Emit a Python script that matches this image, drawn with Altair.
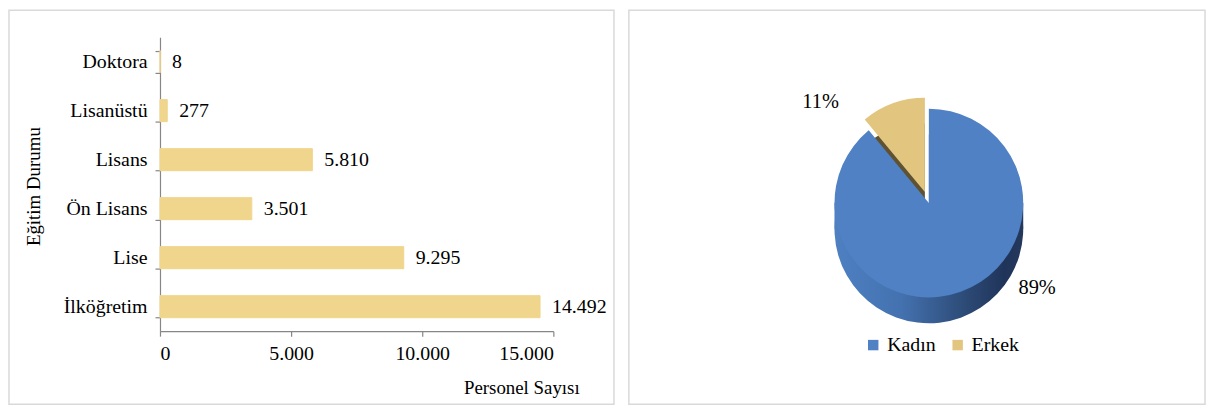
import altair as alt
import pandas as pd

# ---- data ----
categories = ["Doktora", "Lisanüstü", "Lisans", "Ön Lisans", "Lise", "İlköğretim"]
counts = [8, 277, 5810, 3501, 9295, 14492]
x_ticks = [0, 5000, 10000, 15000]

genders = ["Kadın", "Erkek"]
shares = [89, 11]

bar_df = pd.DataFrame({"cat": categories, "count": counts})
pie_df = pd.DataFrame({"g": genders, "share": shares, "idx": list(range(len(genders)))})
one = pd.DataFrame({"k": [0]})

FONT = "Liberation Serif"
BAR = "#F0D58C"
BLUE = "#4F81C4"
TAN = "#E2C57F"
FRAME = "#D9D9D9"

side_grad = alt.LinearGradient(
    gradient="linear", x1=0, y1=0, x2=1, y2=0,
    stops=[
        alt.GradientStop(offset=0, color="#4E80C2"),
        alt.GradientStop(offset=0.35, color="#4472B0"),
        alt.GradientStop(offset=0.7, color="#2C4A75"),
        alt.GradientStop(offset=0.9, color="#20345A"),
        alt.GradientStop(offset=1, color="#24395C"),
    ],
)

# pie geometry (pixels relative to bar plot origin)
CX, CY, R, D = 774, 167, 95, 26
EX, EY = -4, -11

x_enc = alt.X(
    "count:Q",
    scale=alt.Scale(domain=[0, 15000], nice=False),
    axis=alt.Axis(
        values=x_ticks, grid=False, tickSize=5, labelPadding=8,
        labelExpr="replace(format(datum.value, ','), ',', '.')",
        title="Personel Sayısı", titleAnchor="end", titleAlign="right",
        titleX=422, titleY=57, titleBaseline="middle", titleFontWeight="normal",
    ),
)
y_enc = alt.Y(
    "cat:N", sort=categories,
    scale=alt.Scale(paddingInner=0.55, paddingOuter=0.275),
    axis=alt.Axis(
        tickBand="extent", tickSize=5, labelPadding=8, grid=False,
        title="Eğitim Durumu", titleX=-127, titleY=150, titleAngle=-90,
        titleBaseline="middle", titleAlign="center", titleFontWeight="normal",
    ),
)

frame_l = alt.Chart(one).mark_rect(filled=False, stroke=FRAME, strokeWidth=1.5).encode(
    x=alt.value(-152), x2=alt.value(457), y=alt.value(-27), y2=alt.value(369.5))
frame_r = alt.Chart(one).mark_rect(filled=False, stroke=FRAME, strokeWidth=1.5).encode(
    x=alt.value(472), x2=alt.value(1052), y=alt.value(-27), y2=alt.value(369.5))

theta = alt.Theta("share:Q", stack=True)
order = alt.Order("idx:Q")
is_k = alt.datum.g == "Kadın"
is_e = alt.datum.g == "Erkek"

side_rect = alt.Chart(one).mark_rect(color=side_grad).encode(
    x=alt.value(CX - R), x2=alt.value(CX + R), y=alt.value(CY), y2=alt.value(CY + D))
side_k = alt.Chart(pie_df).mark_arc(radius=R, color=side_grad).encode(
    theta=theta, order=order, x=alt.value(CX), y=alt.value(CY + D),
    opacity=alt.condition(is_k, alt.value(1), alt.value(0)))
side_e = alt.Chart(pie_df).mark_arc(radius=R, color="#5E5232").encode(
    theta=theta, order=order, x=alt.value(CX + EX), y=alt.value(CY + EY + D),
    opacity=alt.condition(is_e, alt.value(1), alt.value(0)))

color_enc = alt.Color(
    "g:N", sort=genders,
    scale=alt.Scale(domain=genders, range=[BLUE, TAN]),
    legend=alt.Legend(
        orient="none", legendX=708, legendY=300, direction="horizontal",
        title=None, symbolType="square", symbolSize=110, symbolStrokeWidth=0,
        symbolOpacity=1, labelFont=FONT, labelFontSize=20, labelColor="black",
        columnPadding=12, labelOffset=4, padding=0,
    ),
)
top_e = alt.Chart(pie_df).mark_arc(radius=R).encode(
    theta=theta, order=order, color=color_enc,
    x=alt.value(CX + EX), y=alt.value(CY + EY),
    opacity=alt.condition(is_e, alt.value(1), alt.value(0)))
top_k = alt.Chart(pie_df).mark_arc(radius=R).encode(
    theta=theta, order=order, color=color_enc,
    x=alt.value(CX), y=alt.value(CY),
    opacity=alt.condition(is_k, alt.value(1), alt.value(0)))

pie_lab_k = alt.Chart(pie_df).transform_filter(is_k).transform_calculate(
    lab="datum.share + '%'").mark_text(font=FONT, fontSize=20.5, color="black").encode(
    text="lab:N", x=alt.value(883), y=alt.value(253))
pie_lab_e = alt.Chart(pie_df).transform_filter(is_e).transform_calculate(
    lab="datum.share + '%'").mark_text(font=FONT, fontSize=20.5, color="black").encode(
    text="lab:N", x=alt.value(665), y=alt.value(65))

bars = alt.Chart(bar_df).mark_bar(color=BAR, stroke=BAR, strokeWidth=1).encode(x=x_enc, y=y_enc)
bar_text = alt.Chart(bar_df).transform_calculate(
    lab="replace(format(datum.count, ','), ',', '.')"
).mark_text(align="left", baseline="middle", dx=12, font=FONT, fontSize=20, color="black").encode(
    x=x_enc, y=y_enc, text="lab:N")

chart = alt.layer(
    frame_l, frame_r, side_rect, side_k, side_e, top_e, top_k,
    pie_lab_k, pie_lab_e, bars, bar_text,
).properties(
    width=396, height=296,
    autosize=alt.AutoSizeParams(type="none"),
    padding={"left": 153, "top": 28, "right": 658, "bottom": 75},
    background="white",
).configure_view(stroke=None).configure_axis(
    labelFont=FONT, titleFont=FONT, labelFontSize=20, titleFontSize=19,
    labelColor="black", titleColor="black",
    domainColor="#868686", tickColor="#868686", domainWidth=1.2, tickWidth=1.2,
)

chart.save("out.html", embed_options={"renderer": "svg", "actions": False})
